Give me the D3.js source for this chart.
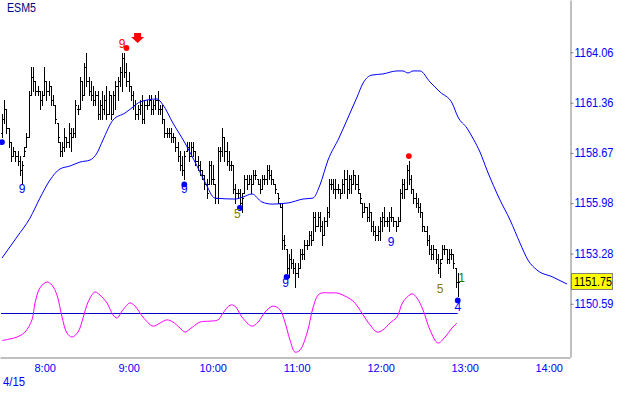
<!DOCTYPE html>
<html><head><meta charset="utf-8">
<script src="https://cdn.jsdelivr.net/npm/d3@7"></script>
<style>body{margin:0;background:#fff}svg{display:block}text{font-family:"Liberation Sans",Arial,sans-serif}</style>
</head><body><svg id="c" width="630" height="417"></svg>
<script>
// ---------------- DATA ----------------
const symbol = "ESM5";
const dateLabel = "4/15";
const lastPrice = 1151.75;
const yTicks = [1150.59, 1153.28, 1155.98, 1158.67, 1161.36, 1164.06];
const yDomain = [1147.74, 1166.86];
const xDomainMinutes = [448.08, 855.21];   // minutes after midnight (7:28 - 14:15)
const barStartMinute = 449.5;               // 7:29:30
const barStepMinutes = 1.588;

const highs = [
1160.75,1161.50,1161.00,1160.00,1159.25,1159.00,1158.75,1158.75,1158.50,1158.25,
1159.00,1159.75,1162.00,1163.25,1163.25,1162.50,1162.25,1162.00,1162.00,1163.25,
1162.50,1162.50,1162.25,1161.75,1161.25,1160.25,1159.25,1159.25,1160.00,1159.50,
1160.25,1160.00,1160.00,1161.50,1161.25,1162.75,1162.50,1163.50,1164.00,1162.75,
1162.50,1162.25,1162.00,1162.00,1161.50,1162.00,1161.75,1162.25,1162.00,1161.75,
1162.00,1162.50,1162.75,1163.25,1164.00,1164.00,1163.50,1163.00,1162.25,1162.00,
1161.50,1161.25,1161.50,1161.75,1161.50,1161.50,1161.75,1161.75,1161.50,1161.75,
1162.00,1161.25,1161.25,1160.50,1160.00,1160.00,1160.00,1159.75,1159.50,1159.25,
1158.75,1158.50,1158.75,1159.25,1159.25,1159.25,1159.25,1158.75,1158.50,1158.25,
1157.75,1157.50,1157.25,1158.25,1158.25,1158.00,1157.00,1159.00,1159.00,1160.00,
1159.50,1159.25,1158.75,1158.25,1158.00,1157.00,1156.75,1156.75,1156.50,1157.50,
1157.50,1157.50,1157.50,1157.75,1157.75,1157.25,1157.25,1157.50,1157.50,1158.00,
1158.00,1157.75,1157.25,1157.00,1156.50,1156.00,1156.00,1154.25,1153.50,1153.25,
1153.50,1153.00,1152.75,1152.75,1153.50,1153.50,1154.00,1154.00,1154.50,1154.50,
1155.50,1155.50,1155.50,1155.50,1155.00,1155.25,1155.75,1157.25,1157.25,1157.25,
1157.25,1157.00,1156.75,1157.25,1157.75,1157.75,1157.50,1157.50,1157.75,1157.50,
1157.50,1156.50,1156.00,1156.00,1155.75,1156.00,1155.50,1155.00,1154.75,1154.75,
1155.25,1155.50,1155.75,1155.25,1155.50,1155.75,1155.25,1155.00,1155.25,1156.75,
1157.25,1157.25,1158.00,1158.25,1157.50,1156.75,1156.50,1156.25,1156.00,1155.50,
1154.75,1154.75,1154.25,1153.75,1153.75,1153.50,1153.25,1153.00,1153.75,1153.75,
1153.50,1153.50,1153.50,1153.25,1152.50,1152.25];
const lows = [
1159.50,1160.25,1159.75,1159.00,1158.25,1158.50,1158.25,1158.00,1157.50,1157.00,
1158.50,1159.00,1159.50,1161.75,1162.00,1161.75,1161.75,1161.00,1161.25,1161.75,
1161.50,1161.75,1161.25,1161.25,1160.25,1159.25,1158.50,1158.50,1158.75,1159.00,
1159.00,1158.75,1159.50,1159.50,1160.75,1161.00,1161.50,1161.75,1162.25,1161.75,
1161.50,1161.25,1161.25,1160.50,1160.50,1160.50,1160.75,1160.50,1160.75,1160.50,
1160.75,1161.00,1161.50,1162.25,1162.00,1162.75,1162.25,1162.00,1161.50,1161.00,
1160.50,1160.50,1160.75,1160.25,1160.25,1161.00,1161.25,1160.75,1160.75,1161.00,
1160.75,1160.75,1160.25,1159.50,1159.50,1159.50,1159.25,1159.25,1158.75,1158.25,
1157.75,1157.50,1157.25,1158.75,1158.25,1158.50,1158.50,1158.00,1157.75,1157.50,
1157.25,1156.75,1156.25,1157.00,1157.00,1157.00,1156.00,1156.00,1158.25,1158.50,
1158.25,1158.00,1157.75,1157.75,1156.50,1156.00,1156.25,1155.75,1155.50,1156.50,
1156.75,1157.00,1156.50,1157.00,1157.25,1157.00,1156.50,1156.75,1157.00,1157.00,
1157.25,1157.00,1157.00,1156.50,1156.00,1155.75,1153.50,1153.50,1152.25,1152.00,
1152.50,1152.25,1151.50,1152.00,1152.50,1153.00,1153.00,1153.50,1153.75,1153.75,
1154.00,1154.50,1154.75,1154.50,1153.75,1154.25,1154.75,1155.25,1156.75,1156.50,
1156.25,1156.50,1156.25,1156.50,1156.50,1156.25,1156.50,1156.50,1157.00,1156.75,
1156.50,1156.00,1155.25,1155.50,1155.00,1155.00,1154.50,1154.25,1154.00,1154.00,
1154.00,1154.50,1154.75,1154.75,1154.50,1155.00,1154.75,1154.50,1154.75,1155.00,
1156.25,1156.25,1156.75,1157.00,1156.50,1156.00,1155.75,1155.50,1155.25,1154.50,
1154.50,1153.75,1153.25,1153.00,1153.00,1152.75,1152.25,1152.00,1153.00,1153.25,
1152.75,1152.75,1153.00,1152.50,1151.50,1151.00];
const opens = [
1159.75,1160.50,1161.00,1160.00,1159.25,1158.50,1158.75,1158.50,1158.25,1157.75,
1158.50,1159.00,1159.50,1161.75,1162.75,1162.50,1162.00,1162.00,1161.50,1161.75,
1162.50,1162.00,1162.25,1161.50,1161.25,1160.25,1159.25,1158.75,1159.00,1159.50,
1159.25,1159.75,1159.50,1159.75,1161.00,1161.00,1162.50,1161.75,1163.25,1162.50,
1162.00,1161.75,1161.50,1161.75,1160.75,1161.25,1161.00,1161.50,1160.75,1161.75,
1160.75,1161.75,1162.25,1162.50,1163.00,1163.75,1163.00,1162.50,1162.25,1161.75,
1161.25,1160.75,1161.00,1161.25,1160.50,1161.25,1161.25,1161.50,1161.00,1161.25,
1161.50,1161.00,1161.00,1160.50,1159.75,1159.75,1159.75,1159.50,1159.50,1159.00,
1158.50,1158.00,1157.75,1158.75,1159.00,1158.50,1159.00,1158.75,1158.25,1158.00,
1157.75,1157.50,1157.00,1157.00,1158.00,1157.25,1157.00,1156.25,1158.75,1158.75,
1159.50,1158.75,1158.25,1158.00,1158.00,1156.75,1156.50,1156.50,1156.00,1156.50,
1157.25,1157.00,1157.25,1157.00,1157.50,1157.25,1157.00,1156.75,1157.25,1157.25,
1157.75,1157.50,1157.25,1157.00,1156.50,1156.00,1155.75,1154.00,1153.50,1152.50,
1153.00,1152.75,1152.50,1152.25,1152.50,1153.25,1153.25,1153.75,1153.75,1154.25,
1154.00,1155.25,1154.75,1155.25,1154.75,1154.25,1155.00,1155.50,1157.00,1157.00,
1156.75,1156.75,1156.75,1156.50,1157.00,1157.25,1156.75,1157.25,1157.00,1157.50,
1157.00,1156.50,1156.00,1155.50,1155.75,1155.25,1155.50,1154.75,1154.50,1154.25,
1154.50,1155.00,1155.25,1155.00,1155.00,1155.25,1155.25,1155.00,1154.75,1155.00,
1156.50,1157.00,1156.75,1157.75,1157.25,1156.75,1156.25,1156.00,1155.75,1155.50,
1154.75,1154.50,1154.00,1153.50,1153.25,1153.50,1153.00,1152.50,1153.00,1153.50,
1153.50,1153.00,1153.25,1153.25,1152.50,1151.75];
const closes = [
1160.50,1161.00,1160.00,1159.25,1158.50,1158.75,1158.50,1158.25,1157.75,1158.00,
1158.75,1159.50,1161.75,1162.75,1162.50,1162.00,1162.00,1161.50,1161.75,1162.50,
1162.00,1162.25,1161.50,1161.25,1160.50,1159.50,1158.75,1159.00,1159.50,1159.25,
1159.75,1159.50,1159.75,1161.25,1161.00,1162.50,1161.75,1163.25,1162.50,1162.00,
1161.75,1161.50,1161.75,1160.75,1161.25,1161.00,1161.50,1160.75,1161.75,1160.75,
1161.75,1162.25,1162.50,1163.00,1163.75,1163.00,1162.50,1162.25,1161.75,1161.25,
1160.75,1161.00,1161.25,1160.50,1161.25,1161.25,1161.50,1161.00,1161.25,1161.50,
1161.00,1161.00,1160.50,1159.75,1159.75,1159.75,1159.50,1159.50,1159.00,1158.50,
1158.00,1157.75,1158.50,1159.00,1158.50,1159.00,1158.75,1158.25,1158.00,1157.75,
1157.50,1157.00,1156.50,1158.00,1157.25,1157.25,1156.25,1158.75,1158.75,1159.50,
1158.75,1158.25,1158.00,1158.00,1156.75,1156.50,1156.50,1156.00,1156.25,1157.25,
1157.00,1157.25,1157.00,1157.50,1157.50,1157.00,1156.75,1157.25,1157.25,1157.75,
1157.50,1157.25,1157.00,1156.75,1156.25,1155.75,1154.00,1153.75,1152.50,1153.00,
1152.75,1152.50,1152.25,1152.50,1153.25,1153.25,1153.75,1153.75,1154.25,1154.00,
1155.25,1154.75,1155.25,1154.75,1154.25,1155.00,1155.50,1157.00,1157.00,1156.75,
1156.75,1156.75,1156.50,1157.00,1157.25,1156.75,1157.25,1157.00,1157.50,1157.00,
1156.75,1156.25,1155.50,1155.75,1155.25,1155.50,1154.75,1154.50,1154.25,1154.50,
1155.00,1155.25,1155.00,1155.00,1155.25,1155.25,1155.00,1154.75,1155.00,1156.50,
1157.00,1156.75,1157.75,1157.25,1156.75,1156.25,1156.00,1155.75,1155.50,1154.75,
1154.50,1154.00,1153.50,1153.25,1153.50,1153.00,1152.50,1152.75,1153.50,1153.50,
1153.00,1153.25,1153.25,1152.75,1151.75,1151.75];

// moving average / projection (minutes after midnight, price)
const maMinutes = [449.5,460.2,469.5,476.6,483.8,490.9,498.1,505.2,512.4,517.4,521.6,528.8,537.4,543.1,548.1,560.2,564.5,571.6,580.2,587.4,594.5,601.6,615.9,621.6,628.1,635.2,642.4,653.8,664.5,671.6,676.6,682.4,690.2,695.9,703.1,707.4,713.8,721.6,731.6,735.9,739.5,743.1,748.1,755.2,762.4,771,775.2,781.6,786.6,790.9,795.9,805.2,812.4,819.5,825.2,831.6,843,853];
const maValues = [1153.04,1154.17,1155.18,1156.25,1157.22,1157.81,1157.97,1158.18,1158.29,1158.67,1159.36,1160.43,1160.81,1161.13,1161.40,1161.56,1161.24,1160.27,1159.20,1158.18,1157.11,1156.25,1156.20,1156.31,1156.47,1156.04,1155.93,1155.99,1156.20,1156.25,1156.95,1158.29,1159.47,1160.43,1161.66,1162.41,1162.84,1162.90,1163.06,1163.06,1162.95,1163.06,1163.06,1162.47,1161.93,1161.34,1160.59,1160.00,1159.36,1158.72,1157.75,1156.15,1155.08,1153.84,1152.93,1152.40,1152.02,1151.65];

// oscillator (minutes after midnight, value)
const oscMinutes = [449.5,455.2,460.2,465.9,470.9,473.1,476.6,481.6,485.2,488.8,492.4,495.9,499.5,503.8,507.4,511,515.9,519.5,524.5,528.8,531.6,535.9,540.9,544.5,550.2,557.4,562.4,567.4,571.6,576.6,580.2,583.8,590.9,598.1,603.8,607.4,612.4,615.9,620.9,628.1,632.4,637.4,643.1,648.1,651.6,655.2,658.8,662.4,667.4,671.6,675.2,678.1,683.8,688.8,693.1,699.5,703.8,707.4,712.4,717.4,721.6,726.6,731.6,735.9,742.4,745.9,750.2,755.2,760.9,765.9,770.9,774.5];
const oscValues = [-0.87,-0.82,-0.76,-0.60,-0.21,0.33,0.81,1.00,0.90,0.58,-0.12,-0.63,-0.76,-0.60,-0.15,0.36,0.68,0.58,0.33,-0.05,-0.15,0.11,0.33,0.23,-0.12,-0.41,-0.31,-0.21,-0.28,-0.47,-0.60,-0.50,-0.28,-0.25,-0.21,0.01,0.26,0.23,-0.12,-0.41,-0.28,0.04,0.23,0.11,-0.28,-0.85,-1.24,-1.17,-0.63,0.17,0.58,0.65,0.65,0.65,0.58,0.42,0.20,-0.05,-0.37,-0.60,-0.53,-0.31,-0.12,0.36,0.62,0.49,0.11,-0.53,-0.95,-0.76,-0.47,-0.31];

// signal dots
const dotBars = [0, 56, 82, 107, 128, 183, 205];
const dotPrices = [1159.25, 1164.29, 1156.98, 1155.72, 1152.03, 1158.50, 1150.77];
const dotColors = ["#0000ff","#ff0000","#0000ff","#0000ff","#0000ff","#ff0000","#0000ff"];

// count labels
const labelBars = [9, 54, 82, 107, 128, 175, 197, 205, 205];
const labelTexts = ["9","9","9","5","9","9","5","4","1"];
const labelPrices = [1156.52, 1164.29, 1156.52, 1155.18, 1151.49, 1153.68, 1151.17, 1150.20, 1151.76];
const labelColors = ["#0000ff","#ff0000","#0000ff","#808000","#0000ff","#0000ff","#808000","#0000ff","#008000"];
const labelNudge = [0, 0, 0, -2.5, -1, 0, 0, 0, 3.8];

// sell arrow
const arrowBar = 61;
const arrowTipPrice = 1164.56;

// ---------------- CHART ----------------
const svg = d3.select("#c");
const day0 = new Date(2015, 3, 15).getTime();
const toDate = m => new Date(day0 + m * 60000);
const x = d3.scaleTime().domain(xDomainMinutes.map(toDate)).range([0, 570]);
const y = d3.scaleLinear().domain(yDomain).range([357, 0]);
const oscY = d3.scaleLinear().domain([-1, 1]).range([344.6, 282]);

const bars = highs.map((h, i) => {
  const l = lows[i];
  return {t: toDate(barStartMinute + i * barStepMinutes), h, l,
          o: Math.max(l, Math.min(h, opens[i])), c: Math.max(l, Math.min(h, closes[i]))};
});
const barX = i => x(bars[i].t);

// oscillator zero line
svg.append("line")
  .attr("x1", x(bars[0].t) - 1).attr("x2", x(bars[bars.length - 1].t))
  .attr("y1", Math.round(oscY(0)) + 0.5).attr("y2", Math.round(oscY(0)) + 0.5)
  .attr("stroke", "#0000c8").attr("stroke-width", 1);

// oscillator
svg.append("path")
  .datum(oscMinutes.map((m, i) => [toDate(m), oscValues[i]]))
  .attr("fill", "none").attr("stroke", "#ff00ff").attr("stroke-width", 1)
  .attr("d", d3.line().x(d => x(d[0])).y(d => oscY(d[1])).curve(d3.curveCatmullRom));

// OHLC bars
const gB = svg.append("g").attr("shape-rendering", "crispEdges").attr("fill", "#000");
const bg = gB.selectAll("g").data(bars).join("g");
bg.append("rect")
  .attr("x", d => Math.round(x(d.t))).attr("y", d => Math.round(y(d.h)))
  .attr("width", 1).attr("height", d => Math.max(1, Math.round(y(d.l)) - Math.round(y(d.h)) + 1));
bg.append("rect")
  .attr("x", d => Math.round(x(d.t)) - 1).attr("y", d => Math.round(y(d.o)))
  .attr("width", 1).attr("height", 1);
bg.append("rect")
  .attr("x", d => Math.round(x(d.t)) + 1).attr("y", d => Math.round(y(d.c)))
  .attr("width", 1).attr("height", 1);

// moving average line
svg.append("path")
  .datum(maMinutes.map((m, i) => [toDate(m), maValues[i]]))
  .attr("fill", "none").attr("stroke", "#0000ff").attr("stroke-width", 1)
  .attr("d", d3.line().x(d => x(d[0])).y(d => y(d[1])).curve(d3.curveMonotoneX));

// dots
svg.selectAll("circle.sig").data(dotBars).join("circle")
  .attr("class", "sig")
  .attr("cx", (b, i) => barX(b)).attr("cy", (b, i) => y(dotPrices[i]))
  .attr("r", 2.9).attr("fill", (b, i) => dotColors[i]);

// labels
svg.selectAll("text.cnt").data(labelBars).join("text")
  .attr("class", "cnt")
  .attr("x", (b, i) => barX(b) + labelNudge[i]).attr("y", (b, i) => y(labelPrices[i]))
  .attr("text-anchor", "middle").attr("font-size", "12px")
  .attr("fill", (b, i) => labelColors[i]).text((b, i) => labelTexts[i]);

// sell arrow
{
  const ax = barX(arrowBar), ay = y(arrowTipPrice);
  svg.append("path")
    .attr("d", `M${ax},${ay} L${ax - 6.5},${ay - 6} L${ax - 3.5},${ay - 6} L${ax - 3.5},${ay - 10} L${ax + 3.5},${ay - 10} L${ax + 3.5},${ay - 6} L${ax + 6.5},${ay - 6} Z`)
    .attr("fill", "#ff0000");
}

// symbol
svg.append("text").attr("x", 7).attr("y", 12).attr("font-size", "12px").attr("fill", "#000080")
  .attr("textLength", 29).attr("lengthAdjust", "spacingAndGlyphs").text(symbol);

// axes
const yAxis = d3.axisRight(y).tickValues(yTicks).tickFormat(d3.format(".2f"))
  .tickSize(3).tickPadding(1).tickSizeOuter(0);
const gY = svg.append("g").attr("transform", "translate(570.5,0)").call(yAxis)
  .attr("font-family", "'Liberation Sans', Arial, sans-serif");
gY.select(".domain").attr("stroke", "#808080");
gY.selectAll(".tick line").attr("stroke", "#808080");
gY.selectAll(".tick text").attr("fill", "#0000ff").attr("font-size", "12px")
  .attr("textLength", 39).attr("lengthAdjust", "spacingAndGlyphs");

const xAxis = d3.axisBottom(x).ticks(d3.timeHour.every(1)).tickFormat(d3.timeFormat("%-H:%M"))
  .tickSize(0).tickPadding(7).tickSizeOuter(0);
const gX = svg.append("g").attr("transform", "translate(0,357.5)").call(xAxis)
  .attr("font-family", "'Liberation Sans', Arial, sans-serif");
gX.select(".domain").attr("stroke", "#808080");
gX.selectAll(".tick text").attr("fill", "#0000ff").attr("font-size", "11px");

svg.append("text").attr("x", 3).attr("y", 386).attr("font-size", "12px").attr("fill", "#0000ff")
  .attr("textLength", 22).attr("lengthAdjust", "spacingAndGlyphs").text(dateLabel);

// last price tag
{
  const py = y(lastPrice);
  svg.append("rect").attr("x", 571.5).attr("y", Math.round(py) - 8.5).attr("width", 41).attr("height", 16)
    .attr("fill", "#ffff00").attr("stroke", "#808080").attr("stroke-width", 1);
  svg.append("text").attr("x", 574).attr("y", py + 4.3).attr("font-size", "12px").attr("fill", "#000")
    .attr("textLength", 38).attr("lengthAdjust", "spacingAndGlyphs").text(d3.format(".2f")(lastPrice));
}
</script></body></html>
